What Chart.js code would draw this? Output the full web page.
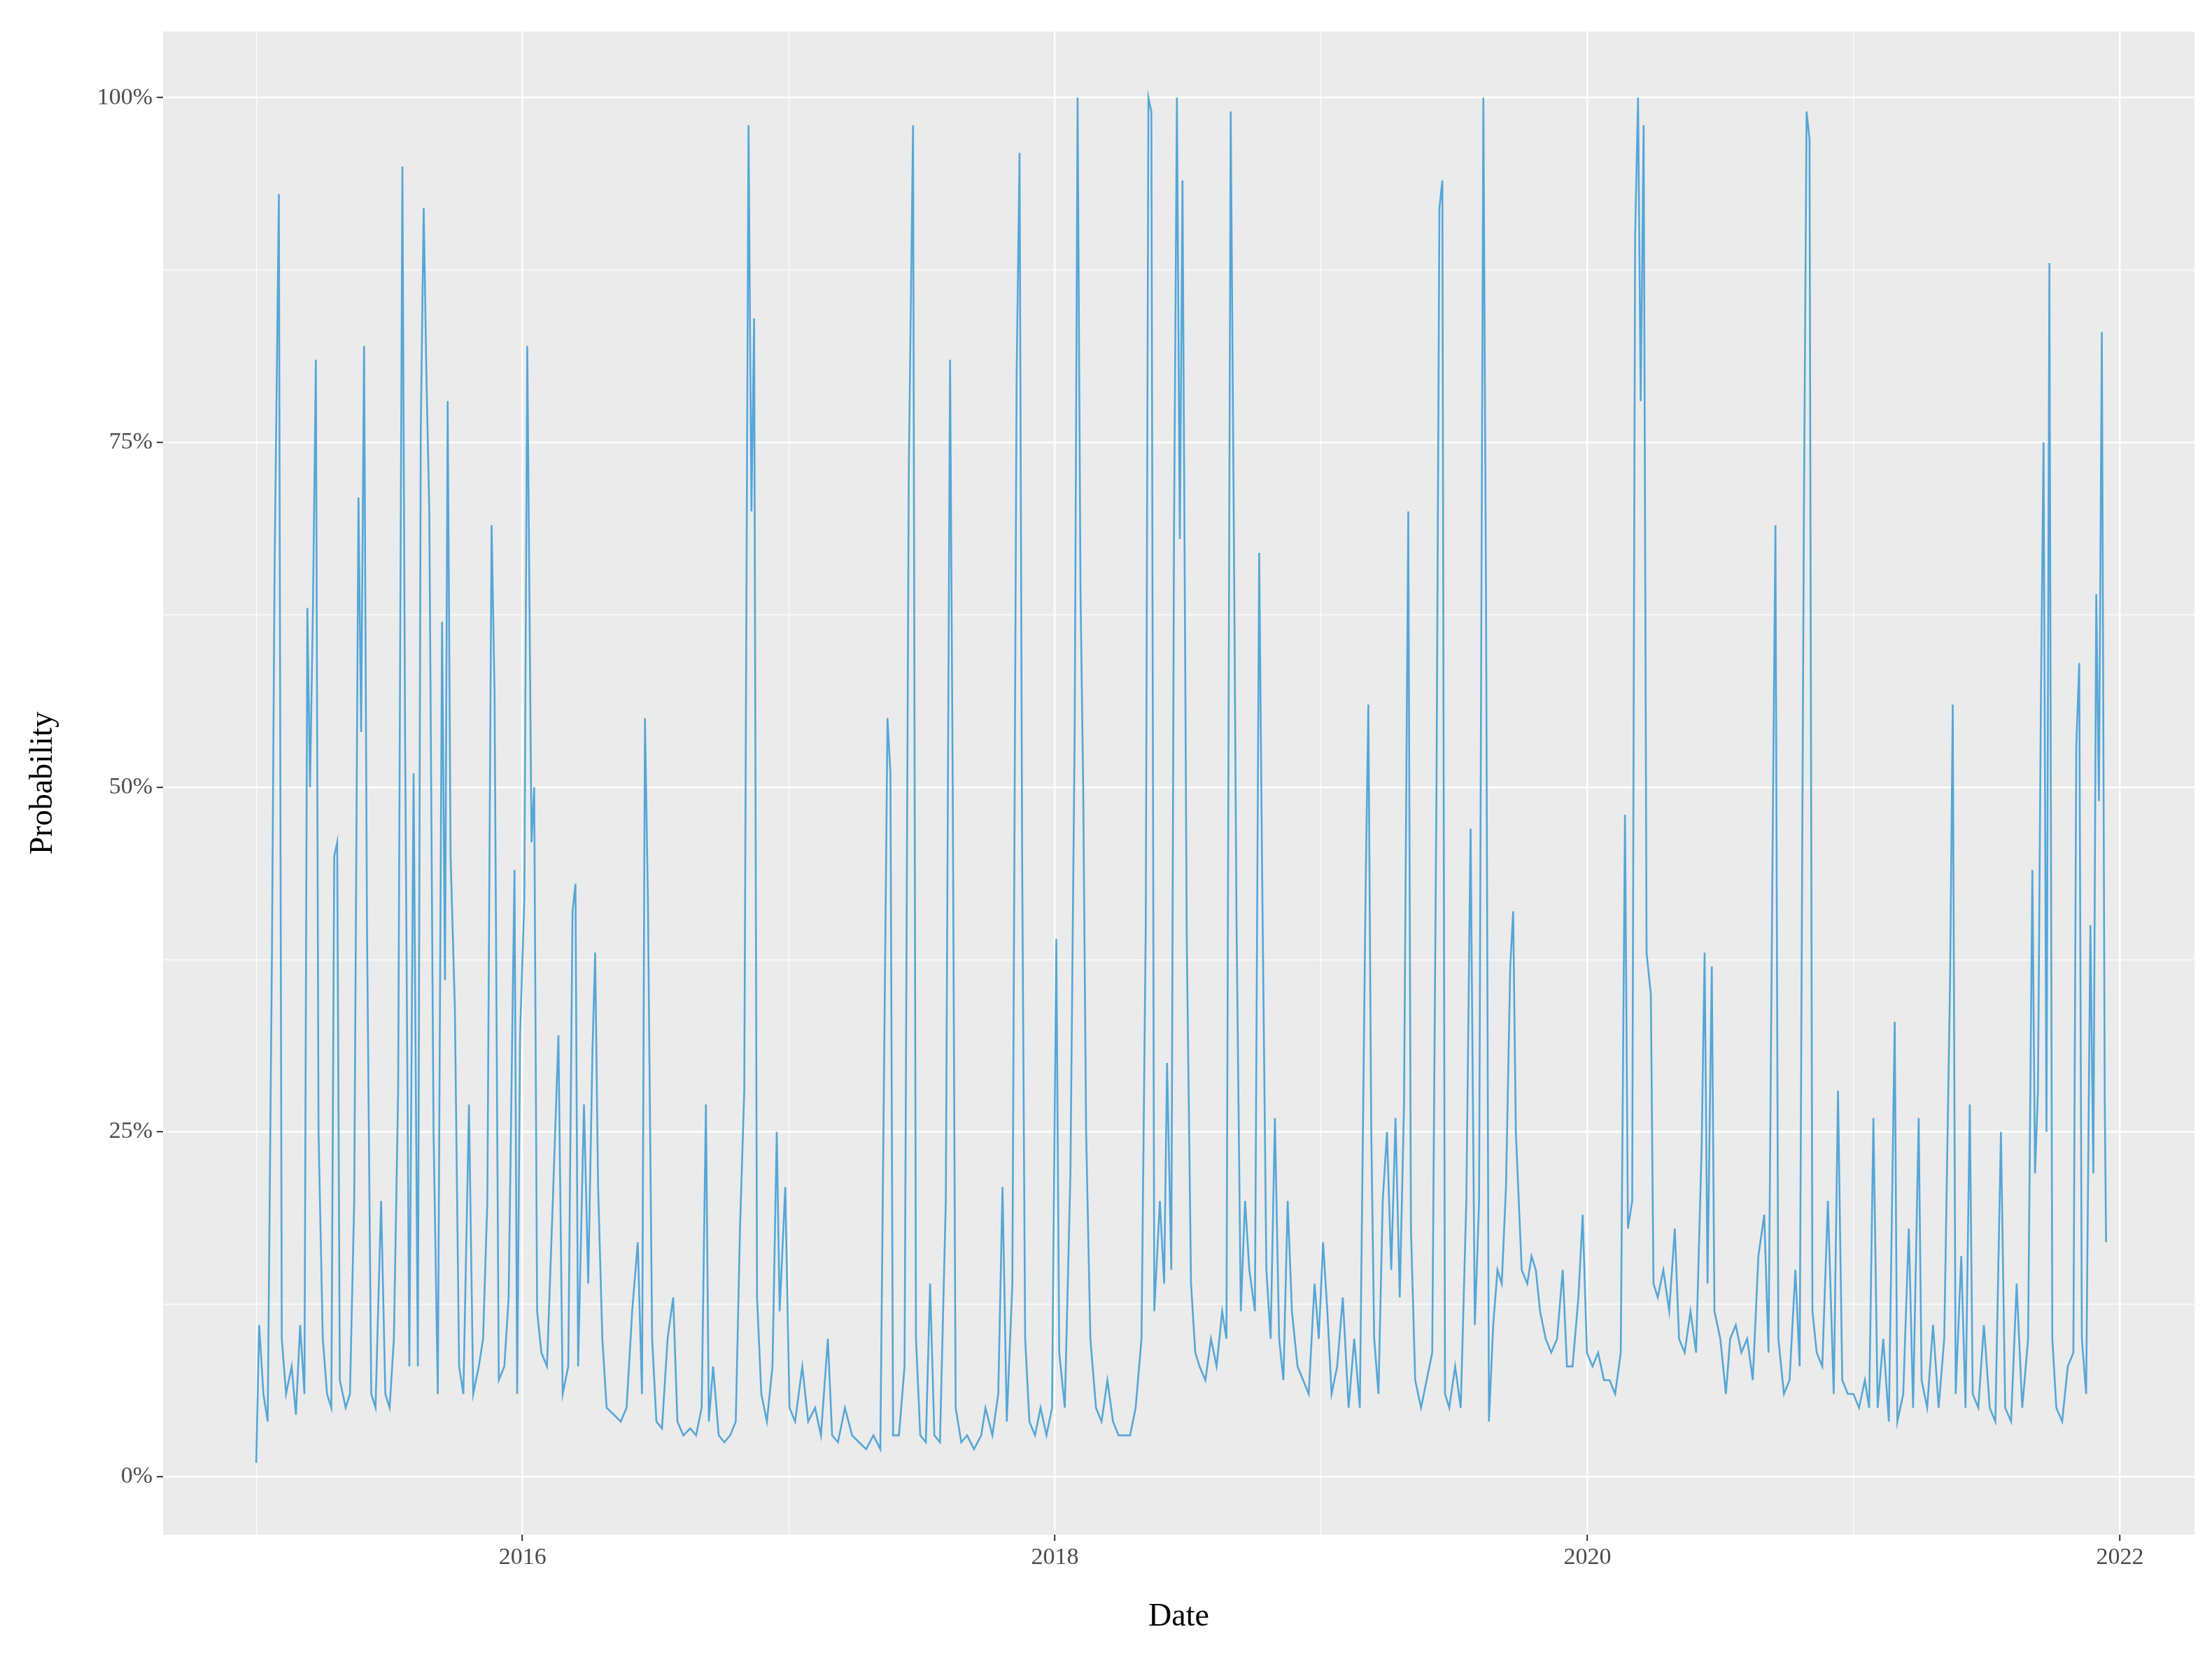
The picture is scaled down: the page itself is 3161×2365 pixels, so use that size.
<!DOCTYPE html>
<html>
<head>
<meta charset="utf-8">
<script src="https://cdn.jsdelivr.net/npm/chart.js@4/dist/chart.umd.min.js"></script>
<style>
  html, body { margin: 0; padding: 0; background: #fff; }
  #wrap { width: 3161px; height: 2365px; }
</style>
</head>
<body>
<div id="wrap"><canvas id="probChart"></canvas></div>
<script>
// dates as decimal years, probability in %
const dates = [
  2015.000,2015.011,2015.027,2015.043,2015.059,2015.069,2015.085,2015.096,2015.112,2015.133,
  2015.149,2015.165,2015.181,2015.192,2015.202,2015.213,2015.224,2015.234,2015.250,2015.266,
  2015.282,2015.293,2015.304,2015.314,2015.336,2015.352,2015.368,2015.384,2015.394,2015.405,
  2015.416,2015.432,2015.448,2015.469,2015.485,2015.501,2015.517,2015.533,2015.549,2015.559,
  2015.575,2015.591,2015.607,2015.618,2015.629,2015.639,2015.650,2015.666,2015.682,2015.698,
  2015.709,2015.719,2015.730,2015.746,2015.762,2015.778,2015.799,2015.815,2015.836,2015.852,
  2015.868,2015.884,2015.895,2015.911,2015.932,2015.948,2015.970,2015.980,2015.991,2016.007,
  2016.018,2016.034,2016.044,2016.055,2016.071,2016.092,2016.114,2016.135,2016.151,2016.172,
  2016.188,2016.199,2016.209,2016.231,2016.247,2016.263,2016.273,2016.284,2016.300,2016.316,
  2016.343,2016.369,2016.391,2016.412,2016.433,2016.449,2016.460,2016.471,2016.487,2016.503,
  2016.524,2016.545,2016.566,2016.582,2016.604,2016.630,2016.652,2016.673,2016.689,2016.700,
  2016.716,2016.737,2016.758,2016.780,2016.801,2016.817,2016.833,2016.849,2016.860,2016.870,
  2016.881,2016.897,2016.918,2016.939,2016.955,2016.966,2016.987,2017.003,2017.024,2017.051,
  2017.073,2017.099,2017.121,2017.147,2017.163,2017.185,2017.211,2017.238,2017.264,2017.291,
  2017.318,2017.344,2017.371,2017.382,2017.392,2017.414,2017.435,2017.451,2017.467,2017.478,
  2017.494,2017.515,2017.531,2017.547,2017.568,2017.590,2017.606,2017.616,2017.627,2017.648,
  2017.670,2017.696,2017.723,2017.739,2017.765,2017.787,2017.803,2017.819,2017.840,2017.856,
  2017.867,2017.877,2017.888,2017.904,2017.925,2017.946,2017.968,2017.989,2018.005,2018.016,
  2018.037,2018.058,2018.074,2018.085,2018.096,2018.106,2018.117,2018.133,2018.154,2018.175,
  2018.197,2018.218,2018.239,2018.261,2018.282,2018.303,2018.325,2018.341,2018.351,2018.362,
  2018.373,2018.394,2018.410,2018.421,2018.437,2018.447,2018.458,2018.469,2018.479,2018.495,
  2018.511,2018.527,2018.543,2018.565,2018.586,2018.607,2018.628,2018.644,2018.660,2018.671,
  2018.682,2018.698,2018.714,2018.730,2018.751,2018.767,2018.778,2018.794,2018.810,2018.826,
  2018.842,2018.858,2018.874,2018.890,2018.911,2018.932,2018.953,2018.975,2018.991,2019.007,
  2019.023,2019.039,2019.060,2019.081,2019.103,2019.124,2019.145,2019.167,2019.177,2019.188,
  2019.199,2019.215,2019.231,2019.247,2019.263,2019.279,2019.295,2019.311,2019.327,2019.337,
  2019.353,2019.375,2019.396,2019.417,2019.433,2019.444,2019.455,2019.465,2019.481,2019.503,
  2019.524,2019.545,2019.561,2019.577,2019.593,2019.609,2019.619,2019.630,2019.646,2019.662,
  2019.678,2019.694,2019.710,2019.721,2019.731,2019.753,2019.774,2019.790,2019.806,2019.822,
  2019.843,2019.864,2019.886,2019.907,2019.923,2019.944,2019.966,2019.982,2019.998,2020.019,
  2020.040,2020.062,2020.083,2020.104,2020.125,2020.141,2020.152,2020.168,2020.179,2020.190,
  2020.200,2020.211,2020.222,2020.238,2020.248,2020.264,2020.285,2020.307,2020.328,2020.344,
  2020.365,2020.387,2020.408,2020.429,2020.440,2020.451,2020.467,2020.477,2020.499,2020.520,
  2020.536,2020.557,2020.578,2020.600,2020.621,2020.642,2020.664,2020.680,2020.696,2020.706,
  2020.717,2020.738,2020.759,2020.781,2020.797,2020.813,2020.823,2020.834,2020.845,2020.861,
  2020.882,2020.903,2020.925,2020.941,2020.957,2020.978,2020.999,2021.020,2021.042,2021.058,
  2021.074,2021.090,2021.111,2021.132,2021.154,2021.164,2021.186,2021.207,2021.223,2021.244,
  2021.255,2021.276,2021.298,2021.319,2021.340,2021.362,2021.372,2021.383,2021.404,2021.420,
  2021.436,2021.447,2021.468,2021.489,2021.511,2021.532,2021.553,2021.569,2021.591,2021.612,
  2021.633,2021.655,2021.671,2021.681,2021.692,2021.703,2021.713,2021.724,2021.735,2021.746,
  2021.761,2021.783,2021.804,2021.825,2021.836,2021.847,2021.857,2021.873,2021.889,2021.900,
  2021.911,2021.921,2021.932,2021.943,2021.948
];
const probability = [
  1,11,6,4,38,66,93,10,6,8,
  4.5,11,6,63,50,63,81,25,10,6,
  5,45,46,7,5,6,20,71,54,82,
  40,6,5,20,6,5,10,28,95,54,
  8,51,8,76,92,80,70,25,6,62,
  36,78,45,34,8,6,27,6,8,10,
  20,69,57,7,8,13,44,6,32,42,
  82,46,50,12,9,8,20,32,6,8,
  41,43,8,27,14,31,38,21,10,5,
  4.5,4,5,12,17,6,55,42,10,4,
  3.5,10,13,4,3,3.5,3,5,27,4,
  8,3,2.5,3,4,18,28,98,70,84,
  13,6,4,8,25,12,21,5,4,8,
  4,5,3,10,3,2.5,5,3,2.5,2,
  3,2,55,51,3,3,8,73,98,10,
  3,2.5,14,3,2.5,20,81,50,5,2.5,
  3,2,3,5,3,6,21,4,14,80,
  96,44,10,4,3,5,3,5,39,9,
  5,22,54,100,64,50,25,10,5,4,
  7,4,3,3,3,5,10,40,100,99,
  12,20,14,30,15,68,100,68,94,39,
  14,9,8,7,10,8,12,10,99,71,
  40,12,20,15,12,67,44,15,10,26,
  10,7,20,12,8,7,6,14,10,17,
  12,6,8,13,5,10,5,43,56,25,
  10,6,20,25,15,26,13,27,70,18,
  7,5,7,9,50,92,94,6,5,8,
  5,20,47,11,20,100,64,4,11,15,
  14,21,37,41,25,15,14,16,15,12,
  10,9,10,15,8,8,13,19,9,8,
  9,7,7,6,9,48,18,20,90,100,
  78,98,38,35,14,13,15,12,18,10,
  9,12,9,24,38,14,37,12,10,6,
  10,11,9,10,7,16,19,9,47,69,
  10,6,7,15,8,70,99,97,12,9,
  8,20,6,28,7,6,6,5,7,5,
  26,5,10,4,33,4,6,18,5,26,
  7,5,11,5,10,36,56,6,16,5,
  27,6,5,11,5,4,25,5,4,14,
  5,10,44,22,28,56,75,25,88,10,
  5,4,8,9,53,59,10,6,40,22,
  64,49,83,27,17
];
const xTicks = [2015, 2016, 2017, 2018, 2019, 2020, 2021, 2022];
const xLabels = ['', '2016', '', '2018', '', '2020', '', '2022'];
const yTicks = [0, 12.5, 25, 37.5, 50, 62.5, 75, 87.5, 100];
const yLabels = ['0%', '', '25%', '', '50%', '', '75%', '', '100%'];

const panelBg = {
  id: 'panelBg',
  beforeDraw(chart) {
    const { ctx, chartArea: a } = chart;
    ctx.save();
    ctx.fillStyle = '#EBEBEB';
    ctx.fillRect(a.left, a.top, a.right - a.left, a.bottom - a.top);
    ctx.restore();
  }
};

const isMajor = (labels, i) => labels[i] !== '';

new Chart(document.getElementById('probChart'), {
  type: 'line',
  data: {
    datasets: [{
      data: dates.map((d, i) => ({ x: d, y: probability[i] })),
      borderColor: '#56A6D6',
      borderWidth: 2.6,
      pointRadius: 0,
      tension: 0
    }]
  },
  options: {
    responsive: true,
    maintainAspectRatio: false,
    animation: false,
    layout: { padding: { top: 45, right: 25, left: 30, bottom: 0 } },
    plugins: { legend: { display: false }, tooltip: { enabled: false } },
    scales: {
      x: {
        type: 'linear',
        min: 2014.65,
        max: 2022.28,
        afterBuildTicks: s => { s.ticks = xTicks.map(v => ({ value: v })); },
        afterFit: s => { s.height = 172; },
        ticks: {
          autoSkip: false, maxRotation: 0, padding: 4,
          color: '#4D4D4D',
          font: { family: 'Liberation Serif', size: 34 },
          callback: (v, i) => xLabels[i]
        },
        grid: {
          color: '#FFFFFF',
          lineWidth: c => isMajor(xLabels, c.index) ? 2.4 : 1.2,
          tickColor: c => isMajor(xLabels, c.index) ? '#333333' : 'rgba(0,0,0,0)',
          tickLength: 9,
          tickWidth: 2
        },
        border: { display: false },
        title: {
          display: true, text: 'Date', color: '#000',
          font: { family: 'Liberation Serif', size: 46 }, padding: { top: 0, bottom: 26 }
        }
      },
      y: {
        min: -4.2,
        max: 104.8,
        afterBuildTicks: s => { s.ticks = yTicks.map(v => ({ value: v })); },
        afterFit: s => { s.width = 203; },
        ticks: {
          autoSkip: false, padding: 6,
          color: '#4D4D4D',
          font: { family: 'Liberation Serif', size: 34 },
          callback: (v, i) => yLabels[i]
        },
        grid: {
          color: '#FFFFFF',
          lineWidth: c => isMajor(yLabels, c.index) ? 2.4 : 1.2,
          tickColor: c => isMajor(yLabels, c.index) ? '#333333' : 'rgba(0,0,0,0)',
          tickLength: 9,
          tickWidth: 2
        },
        border: { display: false },
        title: {
          display: true, text: 'Probability', color: '#000',
          font: { family: 'Liberation Serif', size: 46 }, padding: { bottom: 10 }
        }
      }
    }
  },
  plugins: [panelBg]
});
</script>
</body>
</html>
